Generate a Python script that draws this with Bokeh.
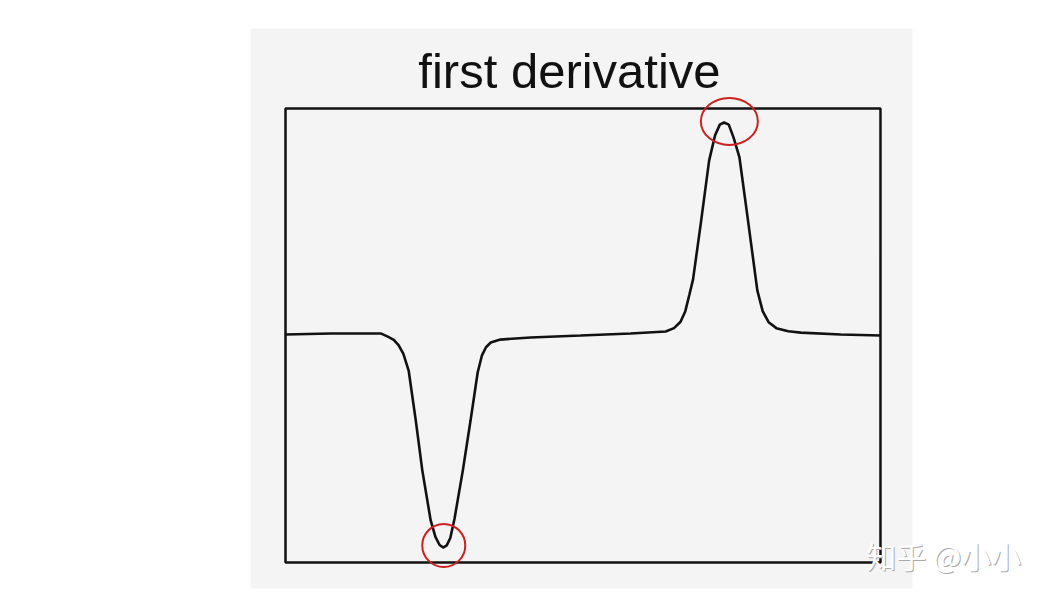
from bokeh.plotting import figure
from bokeh.models import Range1d
from bokeh.core.properties import value
from bokeh.embed import file_html
from bokeh.resources import INLINE

# curve (x: 0..100 across the plot box, y: 1 = peak height)
x_vals = [0, 7.6, 16.0, 17.2, 18.2, 19.0, 19.8, 20.7, 21.9, 23.0, 24.4, 25.2, 25.9, 26.5,
          27.1, 27.7, 28.4, 29.8, 31.1, 32.3, 33.0, 33.7, 34.5, 36.1, 41.2, 49.6, 58.0,
          63.9, 65.3, 66.4, 67.2, 67.9, 68.5, 69.8, 71.2, 72.2, 73.0, 73.7, 74.5, 75.3,
          76.3, 77.8, 79.3, 80.2, 81.2, 82.5, 84.5, 86.6, 93.3, 100]
y_vals = [0.0, 0.005, 0.005, -0.01, -0.025, -0.05, -0.09, -0.17, -0.406, -0.642, -0.877,
          -0.955, -0.993, -1.005, -0.995, -0.96, -0.87, -0.642, -0.406, -0.179, -0.1,
          -0.06, -0.038, -0.024, -0.014, -0.005, 0.005, 0.014, 0.03, 0.06, 0.11, 0.19,
          0.26, 0.524, 0.82, 0.94, 0.99, 1.0, 0.99, 0.93, 0.835, 0.524, 0.208, 0.11,
          0.058, 0.03, 0.015, 0.009, 0.0, -0.005]

# red circled extrema
mark_x = [26.6, 74.6]
mark_y = [-0.995, 1.005]
mark_w = [43, 57]
mark_h = [43, 47]

title_text = ["first derivative"]
watermark = ["知乎 @小小"]

# page geometry in the chart's own units (plot box = 0..100 by -1.075..1.066)
X0, X1 = -47.9, 129.08
Y0, Y1 = -1.2642, 1.5755

p = figure(width=1053, height=602, output_backend="svg", toolbar_location=None,
           x_range=Range1d(X0, X1), y_range=Range1d(Y0, Y1), min_border=0)
p.axis.visible = False
p.grid.visible = False
p.border_fill_color = "white"
p.background_fill_color = "white"
p.outline_line_color = None

# light grey panel behind the chart
p.quad(left=[-5.88], right=[105.38], bottom=[-1.198], top=[1.443],
       fill_color="#f4f4f4", line_alpha=0)
# black plot box
p.quad(left=[0], right=[100], bottom=[-1.075], top=[1.066],
       fill_alpha=0, line_color="#111111", line_width=2.5)

p.line(x_vals, y_vals, line_color="#111111", line_width=2.6)
p.ellipse(x=mark_x, y=mark_y, width=mark_w, height=mark_h,
          width_units="screen", height_units="screen",
          fill_alpha=0, line_color="#cc2020", line_width=2)

p.text(x=[47.73], y=[1.245], text=title_text, text_align="center",
       text_baseline="alphabetic", text_font=value("Liberation Sans"),
       text_font_size="49px", text_color="#111111")

p.text(x=[97.6], y=[-1.042], text=watermark, text_align="left",
       text_baseline="middle", text_font=value("Noto Sans CJK SC"),
       text_font_size="30px", text_color="#aaaaaa", x_offset=1, y_offset=1)
p.text(x=[97.6], y=[-1.042], text=watermark, text_align="left",
       text_baseline="middle", text_font=value("Noto Sans CJK SC"),
       text_font_size="30px", text_color="#ffffff")

open("out.html", "w").write(file_html(p, INLINE))
